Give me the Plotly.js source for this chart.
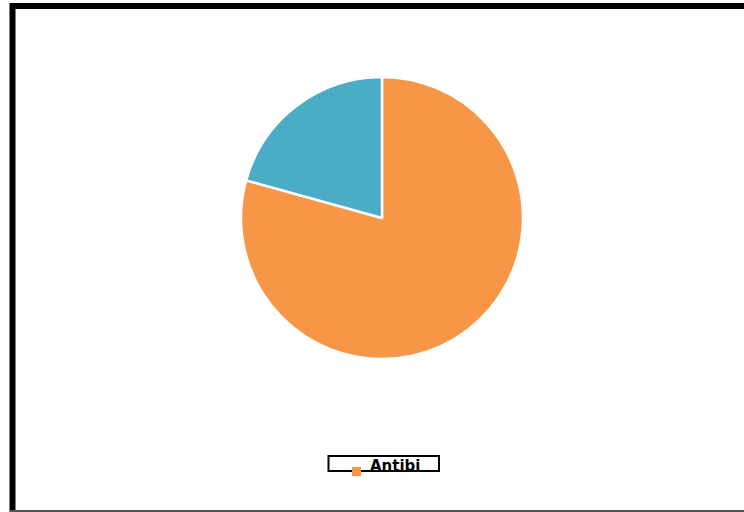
<!DOCTYPE html>
<html>
<head>
<meta charset="utf-8">
<script src="https://cdn.plot.ly/plotly-3.0.1.min.js"></script>
<style>html,body{margin:0;padding:0;background:#fff;}#chart{width:744px;height:512px;}</style>
</head>
<body>
<div id="chart"></div>
<script>
// Data
const labels = ["Antibiotics", "Other"];
const values = [79.3, 20.7];
const colors = ["#F79646", "#4BACC6"];
const legendText = ["Antibi"];

const W = 744, H = 512;
const px = x => x / W;
const py = y => 1 - y / H;

const cx = 382, cy = 218, r = 141;

const trace = {
  type: "pie",
  labels: labels,
  values: values,
  sort: false,
  direction: "clockwise",
  rotation: 0,
  textinfo: "none",
  hoverinfo: "label+percent",
  marker: {colors: colors, line: {color: "#ffffff", width: 2.5}},
  domain: {x: [px(cx - r), px(cx + r)], y: [py(cy + r), py(cy - r)]},
  showlegend: false
};

const layout = {
  width: W, height: H,
  margin: {l: 0, r: 0, t: 0, b: 0},
  paper_bgcolor: "#ffffff",
  showlegend: false,
  shapes: [
    // outer frame
    {type: "line", xref: "paper", yref: "paper", x0: px(12.5), x1: px(12.5), y0: py(3), y1: py(512), line: {color: "#000", width: 6}},
    {type: "line", xref: "paper", yref: "paper", x0: px(10), x1: px(744), y0: py(6), y1: py(6), line: {color: "#000", width: 6}},
    {type: "line", xref: "paper", yref: "paper", x0: px(10), x1: px(744), y0: py(511), y1: py(511), line: {color: "#555", width: 2}},
    // legend box
    {type: "rect", xref: "paper", yref: "paper", x0: px(328.5), x1: px(439), y0: py(471), y1: py(456), line: {color: "#000", width: 2}, fillcolor: "#fff"},
    // legend marker
    {type: "rect", xref: "paper", yref: "paper", x0: px(352), x1: px(361), y0: py(476), y1: py(467), line: {width: 0}, fillcolor: colors[0]}
  ],
  annotations: [
    {xref: "paper", yref: "paper", x: px(368), y: py(466), xanchor: "left", yanchor: "middle",
     text: "<b>" + legendText[0] + "</b>", showarrow: false,
     font: {family: "DejaVu Sans", size: 15, color: "#000"}}
  ]
};

Plotly.newPlot("chart", [trace], layout, {displayModeBar: false, staticPlot: true});
</script>
</body>
</html>
